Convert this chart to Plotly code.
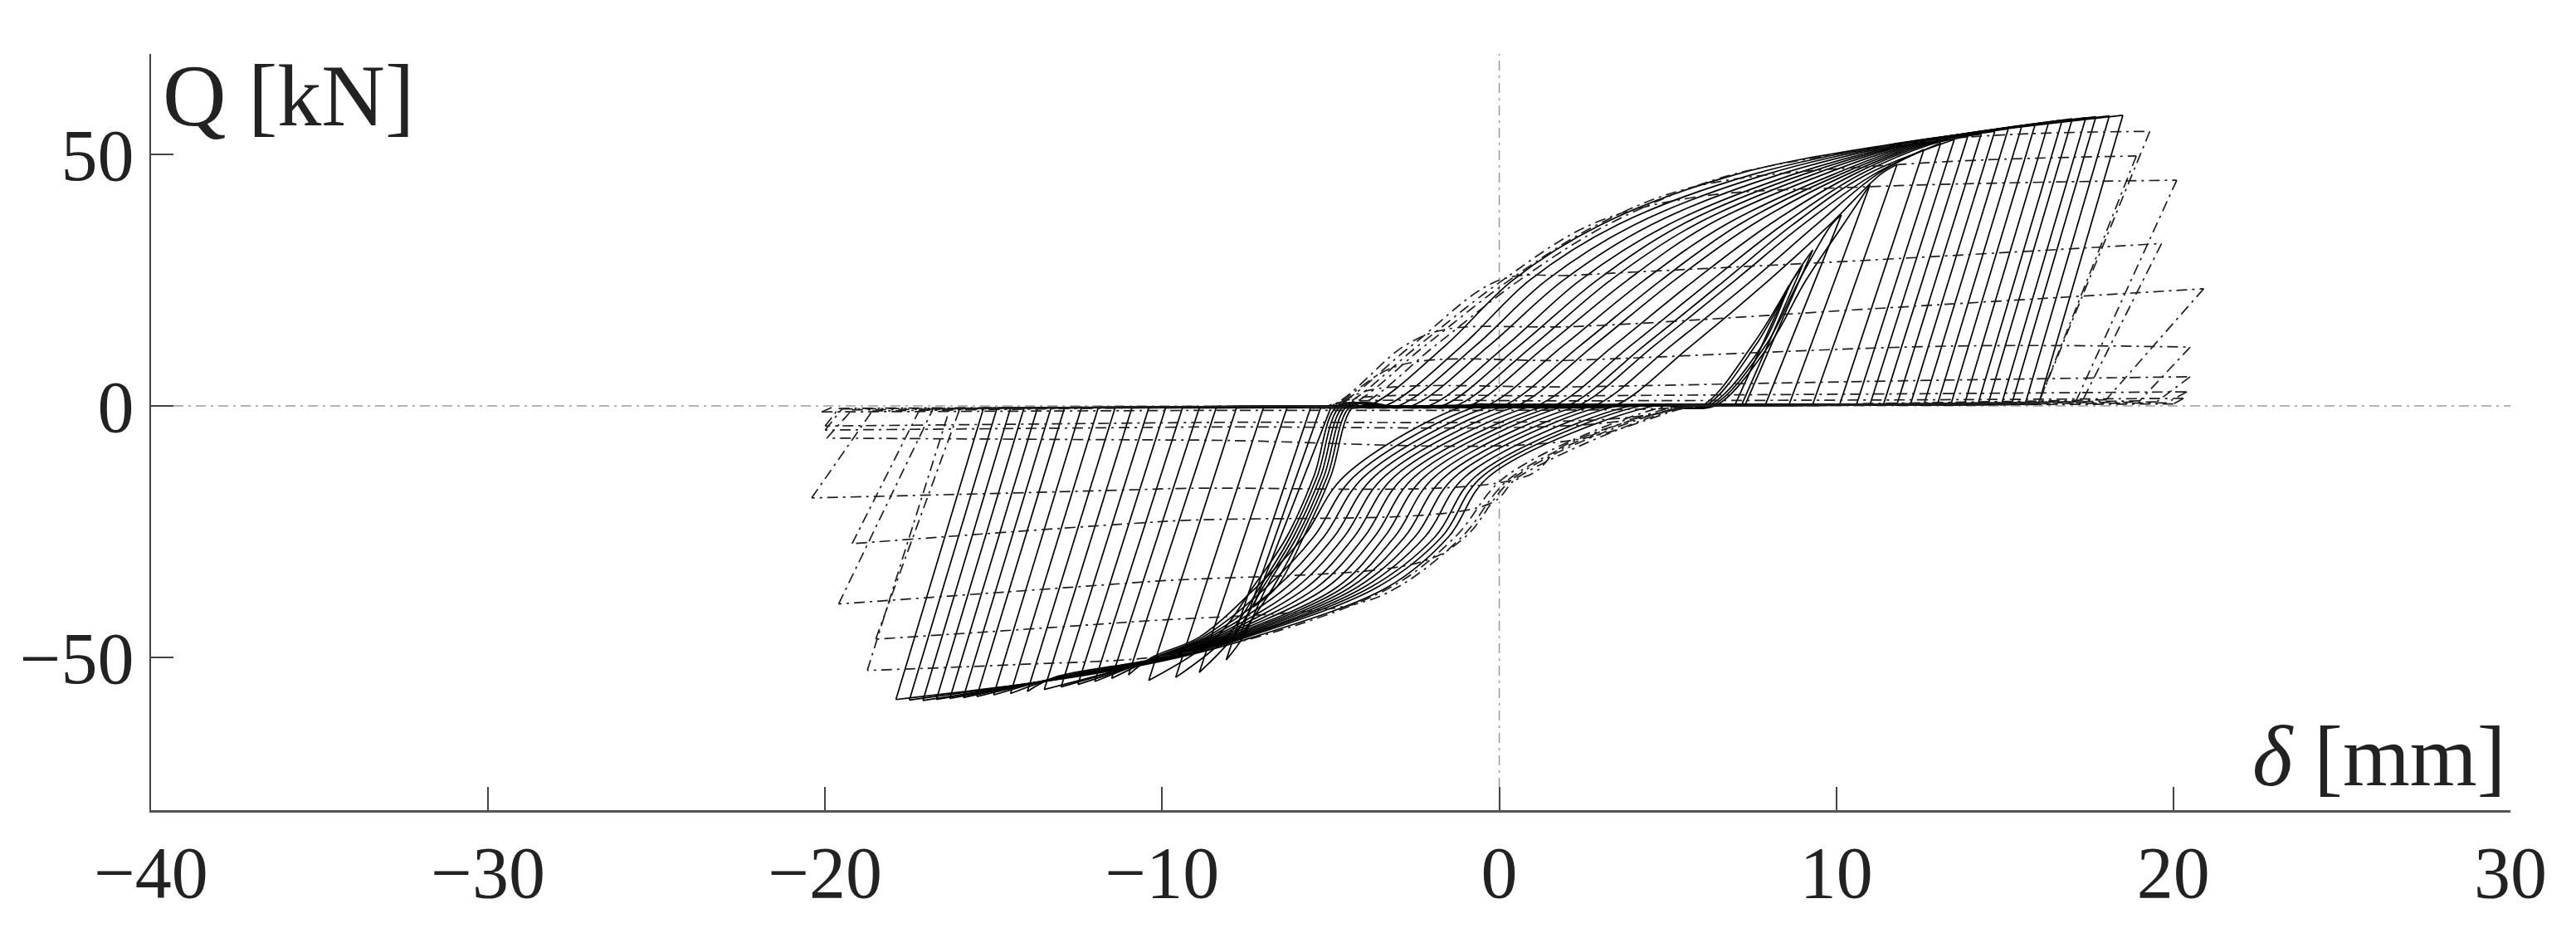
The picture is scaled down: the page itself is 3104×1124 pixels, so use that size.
import plotly.graph_objects as go

X_TICKS = [-40, -30, -20, -10, 0, 10, 20, 30]
Y_TICKS = [-50, 0, 50]

# ---------------- solid cycles (small amplitude first) ----------------
# positive loading branch: displacement [mm] where the curve passes each force level [kN]
pos_levels = [0, 12, 25, 36, 46, 52]
pos_branch_d = [
    [6.0, 7.5, None, None, None, None],
    [6.1, 7.6, 8.7, None, None, None],
    [6.2, 7.8, 8.7, None, None, None],
    [6.3, 7.9, 8.9, 9.85, None, None],
    [6.4, 8.0, 9.1, 10.2, None, None],
    [3.4, 5.7, 8.0, 9.8, 11.3, None],
    [2.8, 5.1, 7.5, 9.4, 11.2, None],
    [2.3, 4.6, 7.0, 9.0, 11.1, None],
    [2.0, 4.3, 6.7, 8.7, 10.9, None],
    [1.6, 3.9, 6.3, 8.4, 10.7, 12.8],
    [1.1, 3.4, 5.8, 8.0, 10.5, 12.7],
    [0.5, 2.8, 5.2, 7.5, 10.3, 12.6],
    [0.1, 2.4, 4.8, 7.1, 10.1, 12.5],
    [-0.4, 1.9, 4.3, 6.7, 9.9, 12.4],
    [-0.9, 1.4, 3.8, 6.2, 9.6, 12.3],
    [-1.3, 1.0, 3.3, 5.8, 9.3, 12.2],
    [-1.7, 0.6, 2.9, 5.4, 9.0, 12.1],
    [-2.1, 0.2, 2.4, 5.0, 8.7, 12.0],
    [-2.6, -0.3, 1.9, 4.5, 8.3, 11.9],
    [-3.0, -0.7, 1.4, 4.0, 7.9, 11.8],
    [-3.4, -1.1, 0.9, 3.5, 7.5, 11.7],
    [-3.9, -1.6, 0.4, 3.0, 7.0, 11.6],
]
pos_peak_d = [8.6, 9.0, 9.3, 10.15, 11.0, 11.8, 12.6, 13.1, 13.5, 13.9, 14.3,
              14.7, 15.1, 15.5, 15.9, 16.3, 16.7, 17.0, 17.4, 17.7, 18.1, 18.5]
pos_peak_q = [24, 28, 31, 38, 44, 48, 51, 52.3, 53.0, 53.6, 54.1,
              54.6, 55.1, 55.6, 56.0, 56.4, 56.8, 57.1, 57.3, 57.5, 57.7, 57.8]
pos_unload_d = [7.0, 7.2, 7.3, 7.9, 8.6, 9.3, 10.1, 10.6, 11.0, 11.4, 11.8,
                12.2, 12.6, 13.0, 13.4, 13.8, 14.2, 14.5, 14.9, 15.2, 15.6, 16.0]
pos_slip_q = 0.3   # force level of the slip after positive unloading

# negative loading branch
neg_levels = [0, -14, -26, -36, -46, -50, -54]
neg_branch_d = [
    [-4.3, -5.0, -5.8, -6.6, None, None, None],
    [-4.4, -5.1, -5.9, -6.7, None, None, None],
    [-4.5, -5.2, -6.0, -6.9, -7.6, None, None],
    [-4.6, -5.3, -6.1, -7.0, -7.9, None, None],
    [-4.7, -5.4, -6.2, -7.1, -8.1, None, None],
    [-4.8, -5.5, -6.3, -7.3, -8.4, None, None],
    [-1.0, -4.6, -5.8, -7.2, -8.9, -10.3, None],
    [-0.6, -4.3, -5.5, -6.9, -8.8, -10.2, None],
    [-0.2, -4.0, -5.2, -6.6, -8.7, -10.2, None],
    [0.2, -3.7, -4.9, -6.3, -8.6, -10.1, None],
    [0.6, -3.4, -4.6, -6.0, -8.5, -10.1, None],
    [1.0, -3.1, -4.3, -5.7, -8.4, -10.0, None],
    [1.4, -2.8, -4.0, -5.4, -8.3, -10.0, -13.2],
    [1.7, -2.5, -3.7, -5.1, -8.2, -9.9, -13.1],
    [2.0, -2.2, -3.4, -4.8, -8.1, -9.9, -13.1],
    [2.4, -1.9, -3.1, -4.6, -8.0, -9.8, -13.0],
    [2.8, -1.6, -2.8, -4.4, -7.9, -9.8, -13.0],
    [3.1, -1.3, -2.5, -4.2, -7.8, -9.7, -12.9],
    [3.5, -1.0, -2.2, -4.0, -7.7, -9.7, -12.9],
    [3.9, -0.7, -1.9, -3.8, -7.6, -9.6, -12.8],
    [4.2, -0.5, -1.7, -3.6, -7.5, -9.6, -12.8],
    [4.6, -0.3, -1.5, -3.3, -7.3, -9.5, -12.7],
]
neg_peak_d = [-7.3, -7.7, -8.1, -8.9, -9.6, -10.4, -11.0, -11.5, -12.0, -12.5, -13.0,
              -13.5, -14.0, -14.5, -15.0, -15.5, -15.9, -16.3, -16.7, -17.1, -17.5, -17.9]
neg_peak_q = [-40, -46, -50.5, -53, -54, -54.6, -53.5, -54.2, -54.8, -55.4, -55.9,
              -56.4, -56.8, -57.2, -57.5, -57.8, -58.0, -58.2, -58.4, -58.6, -58.5, -58.4]
neg_unload_d = [-5.0, -5.3, -5.6, -6.3, -7.0, -7.8, -8.4, -8.9, -9.4, -9.9, -10.4,
                -10.9, -11.4, -11.9, -12.4, -12.9, -13.3, -13.7, -14.1, -14.5, -14.9, -15.3]
neg_slip_q = -0.4  # force level of the slip after negative unloading

# ---------------- dash-dot cycles (strength degradation) ----------------
dd_pos_branches = [
    [(-4.2, 0), (-1.9, 12), (0.6, 25), (3.2, 36), (6.4, 45), (9.5, 49.5), (14.0, 53.5), (19.3, 54.6)],
    [(-4.5, 0), (-2.2, 12), (0.3, 25), (2.9, 36), (5.8, 43.6), (12.3, 48.2), (18.9, 49.7)],
    [(-4.7, 0), (-2.4, 12), (0.1, 25), (2.7, 36), (5.7, 41.4), (11.0, 43.6), (20.1, 44.9)],
    [(-4.9, 0), (-2.6, 12), (0.0, 25), (2.3, 26.0), (11.0, 29.0), (19.65, 32.3)],
    [(-5.0, 0), (-2.8, 12), (-1.6, 15.2), (2.3, 15.8), (11.5, 19.5), (20.9, 23.3)],
    [(-5.0, 0), (-3.0, 8.0), (2.3, 9.1), (13.4, 11.9), (20.5, 11.7)],
    [(-5.0, 0), (-3.8, 3.2), (2.3, 3.8), (12.0, 5.0), (20.5, 5.8)],
    [(-5.1, 0), (-4.2, 1.6), (2.3, 2.0), (12.0, 2.4), (20.4, 2.8)],
    [(-5.2, 0), (-4.6, 0.8), (2.3, 1.0), (12.0, 1.2), (20.3, 1.5)],
]
dd_pos_unload = [(16.0, 0.6), (16.0, 0.6), (17.1, 0.8), (17.3, 1.0), (18.0, 1.2),
                 (19.0, 1.0), (19.5, 0.8), (19.8, 0.6), (20.0, 0.4)]
dd_neg_branches = [
    [(5.0, 0), (0.2, -14), (-1.3, -26), (-3.2, -36), (-7.2, -46), (-10.0, -49.8), (-14.5, -51.5), (-18.75, -52.6)],
    [(5.3, 0), (0.4, -14), (-1.1, -26), (-3.0, -36), (-4.4, -39.6), (-11.0, -43.0), (-18.5, -46.4)],
    [(5.5, 0), (0.5, -14), (-1.0, -26), (-2.3, -31.0), (-10.5, -35.0), (-19.6, -39.4)],
    [(5.6, 0), (0.6, -14), (-0.3, -19.5), (-10.0, -23.0), (-19.2, -27.4)],
    [(5.7, 0), (1.9, -8), (0.8, -14.0), (-10.0, -16.5), (-20.4, -18.3)],
    [(5.8, 0), (2.0, -7.0), (-9.0, -6.8), (-19.95, -6.4)],
    [(5.9, 0), (3.0, -3.5), (-9.0, -4.2), (-20.0, -4.8)],
    [(6.0, 0), (3.5, -2.5), (-9.0, -3.3), (-20.0, -4.0)],
    [(6.1, 0), (4.5, -0.6), (-9.0, -0.9), (-20.1, -1.2)],
]
dd_neg_unload = [(-16.3, -0.5), (-16.0, -0.5), (-16.8, -0.6), (-17.2, -0.8), (-18.6, -1.0),
                 (-19.2, -0.8), (-19.5, -0.6), (-19.6, -0.5), (-19.8, -0.3)]

SOLID = dict(color="#000000", width=1.7)
DASHDOT = dict(color="#1e1e1e", width=1.7, dash="13px,6px,3px,6px")
TOE = 1.0  # length of slip line that guides the spline into each loading branch

fig = go.Figure()


def add_path(xs, ys, style, shape):
    fig.add_trace(go.Scatter(x=xs, y=ys, mode="lines",
                             line=dict(shape=shape, **style),
                             hoverinfo="skip", showlegend=False))


def branch(d_row, levels, peak_d, peak_q):
    pts = [(d, q) for d, q in zip(d_row, levels) if d is not None]
    return pts + [(peak_d, peak_q)]


def draw_half(slip_from, pts, side, style):
    # straight slip along the axis, then the smooth loading curve
    first = pts[0]
    toe = (first[0] - side * TOE, first[1])
    add_path([slip_from[0], toe[0]], [slip_from[1], toe[1]], style, "linear")
    allp = [toe] + pts
    add_path([p[0] for p in allp], [p[1] for p in allp], style, "spline")


# solid loops
prev = (neg_unload_d[0], neg_slip_q)
for i in range(len(pos_peak_d)):
    pts = branch(pos_branch_d[i], pos_levels, pos_peak_d[i], pos_peak_q[i])
    draw_half(prev, pts, 1, SOLID)
    add_path([pos_peak_d[i], pos_unload_d[i]], [pos_peak_q[i], pos_slip_q], SOLID, "linear")
    pts = branch(neg_branch_d[i], neg_levels, neg_peak_d[i], neg_peak_q[i])
    draw_half((pos_unload_d[i], pos_slip_q), pts, -1, SOLID)
    add_path([neg_peak_d[i], neg_unload_d[i]], [neg_peak_q[i], neg_slip_q], SOLID, "linear")
    prev = (neg_unload_d[i], neg_slip_q)

# dash-dot loops
for c in range(len(dd_pos_branches)):
    draw_half(prev, dd_pos_branches[c], 1, DASHDOT)
    corner = dd_pos_branches[c][-1]
    add_path([corner[0], dd_pos_unload[c][0]], [corner[1], dd_pos_unload[c][1]], DASHDOT, "linear")
    draw_half(dd_pos_unload[c], dd_neg_branches[c], -1, DASHDOT)
    corner = dd_neg_branches[c][-1]
    add_path([corner[0], dd_neg_unload[c][0]], [corner[1], dd_neg_unload[c][1]], DASHDOT, "linear")
    prev = dd_neg_unload[c]

FONT = "Liberation Serif, Times New Roman, serif"
REF = dict(color="#9a9a9a", width=1.5, dash="12px,6px,3px,6px")

fig.update_layout(
    width=3104, height=1124,
    margin=dict(l=182, r=79, t=65, b=148),
    paper_bgcolor="white", plot_bgcolor="white",
    font=dict(family=FONT, color="#222222"),
    xaxis=dict(range=[-40, 30], tickvals=X_TICKS, ticks="inside", ticklen=28,
               tickwidth=1.5, tickcolor="#444444", showline=True, linecolor="#555555",
               linewidth=3, showgrid=False, zeroline=False, automargin=False,
               tickfont=dict(size=88, family=FONT, color="#222222"),
               ticklabelstandoff=-4),
    yaxis=dict(range=[-80.4, 70], tickvals=Y_TICKS, ticks="inside", ticklen=27,
               tickwidth=1.5, tickcolor="#444444", showline=True, linecolor="#444444",
               linewidth=2, showgrid=False, zeroline=False, automargin=False,
               tickfont=dict(size=88, family=FONT, color="#222222"),
               ticklabelstandoff=1),
    shapes=[
        dict(type="line", xref="paper", yref="y", x0=0, x1=1, y0=0, y1=0,
             line=REF, layer="below"),
        dict(type="line", xref="x", yref="paper", x0=0, x1=0, y0=0, y1=1,
             line=REF, layer="below"),
    ],
    annotations=[
        dict(text="Q [kN]", xref="x", yref="y", x=-40, y=70, xanchor="left",
             yanchor="top", xshift=12, yshift=10, showarrow=False,
             font=dict(size=106, family=FONT, color="#222222")),
        dict(text="<i>δ</i> [mm]", xref="x", yref="y", x=30, y=-80.4, xanchor="right",
             yanchor="bottom", xshift=-4, yshift=6, showarrow=False,
             font=dict(size=104, family=FONT, color="#222222")),
    ],
)

fig.write_html("out.html", config={"displayModeBar": False},
               post_script="document.body.style.margin='0';")
